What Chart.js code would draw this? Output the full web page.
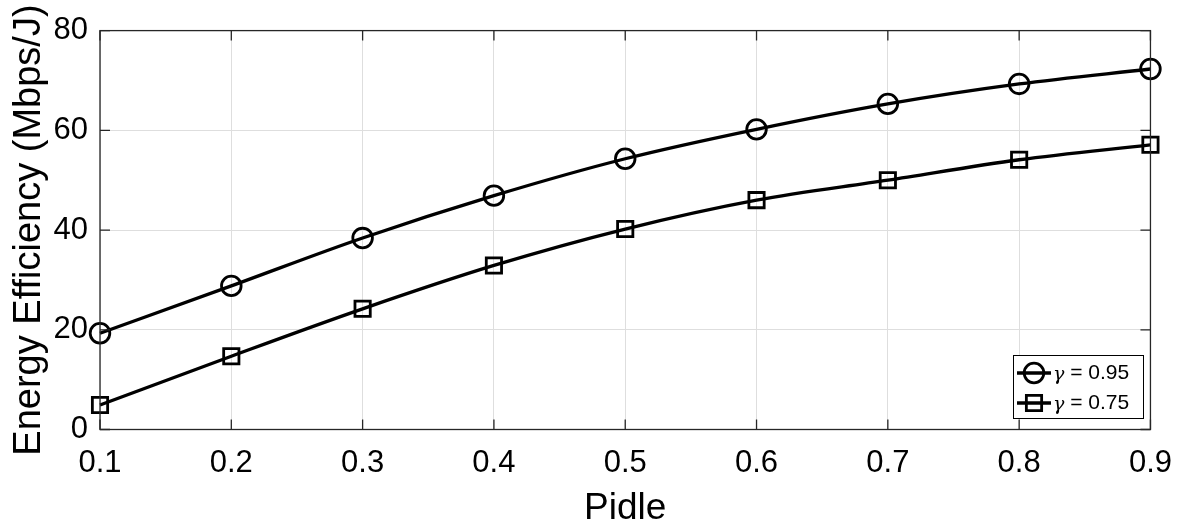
<!DOCTYPE html>
<html>
<head>
<meta charset="utf-8">
<script src="https://cdn.jsdelivr.net/npm/chart.js@4/dist/chart.umd.min.js"></script>
<style>
  html, body { margin: 0; padding: 0; background: #fff; }
  #wrap { width: 1187px; height: 531px; }
</style>
</head>
<body>
<div id="wrap"><canvas id="c" width="1187" height="531"></canvas></div>
<script>
// values
const pidle = [0.1, 0.2, 0.3, 0.4, 0.5, 0.6, 0.7, 0.8, 0.9]
const eeGamma095 = [19.3, 28.8, 38.4, 46.9, 54.3, 60.2, 65.3, 69.3, 72.3]
const eeGamma075 = [4.9, 14.7, 24.2, 32.9, 40.2, 46.0, 50.0, 54.1, 57.1]
const seriesLabels = ['\u03b3 = 0.95', '\u03b3 = 0.75']
const xTicks = [0.1, 0.2, 0.3, 0.4, 0.5, 0.6, 0.7, 0.8, 0.9]
const yTicks = [0, 20, 40, 60, 80]

const FONT = '"Liberation Sans", Arial, Helvetica, sans-serif'
const AXIS_COLOR = '#262626'

const toXY = (xs, ys) => xs.map((x, i) => ({ x, y: ys[i] }))

// MATLAB-like box: frame, inward ticks and an inside legend
const boxPlugin = {
  id: 'box',
  afterDraw(chart) {
    const { ctx, chartArea: a, scales } = chart
    ctx.save()
    ctx.strokeStyle = AXIS_COLOR
    ctx.lineWidth = 1.3
    ctx.strokeRect(a.left, a.top, a.right - a.left, a.bottom - a.top)
    const tl = 10
    ctx.beginPath()
    xTicks.forEach(v => {
      const px = scales.x.getPixelForValue(v)
      ctx.moveTo(px, a.bottom); ctx.lineTo(px, a.bottom - tl)
      ctx.moveTo(px, a.top); ctx.lineTo(px, a.top + tl)
    })
    yTicks.forEach(v => {
      const py = scales.y.getPixelForValue(v)
      ctx.moveTo(a.left, py); ctx.lineTo(a.left + tl, py)
      ctx.moveTo(a.right, py); ctx.lineTo(a.right - tl, py)
    })
    ctx.stroke()

    // legend
    const lx = 1013, ly = 355, lw = 130, lh = 63
    ctx.fillStyle = '#fff'
    ctx.fillRect(lx, ly, lw, lh)
    ctx.strokeStyle = '#000'
    ctx.lineWidth = 1
    ctx.strokeRect(lx + 0.5, ly + 0.5, lw, lh)
    chart.data.datasets.forEach((ds, i) => {
      const cy = ly + 18 + i * 30
      ctx.strokeStyle = ds.borderColor
      ctx.lineWidth = ds.borderWidth
      ctx.beginPath()
      ctx.moveTo(lx + 4, cy); ctx.lineTo(lx + 38, cy)
      ctx.stroke()
      ctx.fillStyle = 'rgba(0,0,0,0)'
      ctx.lineWidth = ds.pointBorderWidth
      Chart.helpers.drawPoint(ctx, {
        pointStyle: ds.pointStyle, radius: ds.pointRadius, borderWidth: ds.pointBorderWidth
      }, lx + 21, cy)
      const [g, rest] = [ds.label.slice(0, 1), ds.label.slice(1)]
      ctx.fillStyle = '#000'
      ctx.textBaseline = 'middle'
      ctx.font = 'italic 19px "DejaVu Serif", serif'
      ctx.fillText(g, lx + 40, cy + 2)
      const gw = ctx.measureText(g).width
      ctx.font = '21px ' + FONT
      ctx.fillText(rest, lx + 40 + gw, cy)
    })
    ctx.restore()
  }
}

const ctx = document.getElementById('c').getContext('2d')
new Chart(ctx, {
  type: 'line',
  data: {
    datasets: [
      {
        label: seriesLabels[0],
        data: toXY(pidle, eeGamma095),
        borderColor: '#000', borderWidth: 3.3,
        pointStyle: 'circle', pointRadius: 9.8, pointBorderWidth: 2.8,
        pointBorderColor: '#000', pointBackgroundColor: 'rgba(0,0,0,0)',
        cubicInterpolationMode: 'monotone', clip: false
      },
      {
        label: seriesLabels[1],
        data: toXY(pidle, eeGamma075),
        borderColor: '#000', borderWidth: 3.3,
        pointStyle: 'rect', pointRadius: 10.8, pointBorderWidth: 2.8,
        pointBorderColor: '#000', pointBackgroundColor: 'rgba(0,0,0,0)',
        cubicInterpolationMode: 'monotone', clip: false
      }
    ]
  },
  options: {
    responsive: false,
    animation: false,
    layout: { padding: { top: 29.5, right: 34, left: 0, bottom: 0 } },
    plugins: { legend: { display: false }, tooltip: { enabled: false } },
    scales: {
      x: {
        type: 'linear', min: 0.1, max: 0.9,
        afterBuildTicks: s => { s.ticks = xTicks.map(v => ({ value: v })) },
        afterFit: s => { s.height = 101.5 },
        grid: { color: '#dedede', lineWidth: 1, drawTicks: false },
        border: { display: false },
        ticks: { color: '#000', font: { family: FONT, size: 31 }, padding: 15,
          callback: v => v.toFixed(1), maxRotation: 0 },
        title: { display: true, text: 'Pidle', color: '#000',
          font: { family: FONT, size: 37 }, padding: { top: 0, bottom: 0 } }
      },
      y: {
        min: 0, max: 80,
        afterBuildTicks: s => { s.ticks = yTicks.map(v => ({ value: v })) },
        afterFit: s => { s.width = 100 },
        grid: { color: '#dedede', lineWidth: 1, drawTicks: false },
        border: { display: false },
        ticks: { color: '#000', font: { family: FONT, size: 31 }, padding: 12 },
        title: { display: true, text: 'Energy Efficiency (Mbps/J)', color: '#000',
          font: { family: FONT, size: 38 }, padding: { top: 7, bottom: 0 } }
      }
    }
  },
  plugins: [boxPlugin]
})
</script>
</body>
</html>
